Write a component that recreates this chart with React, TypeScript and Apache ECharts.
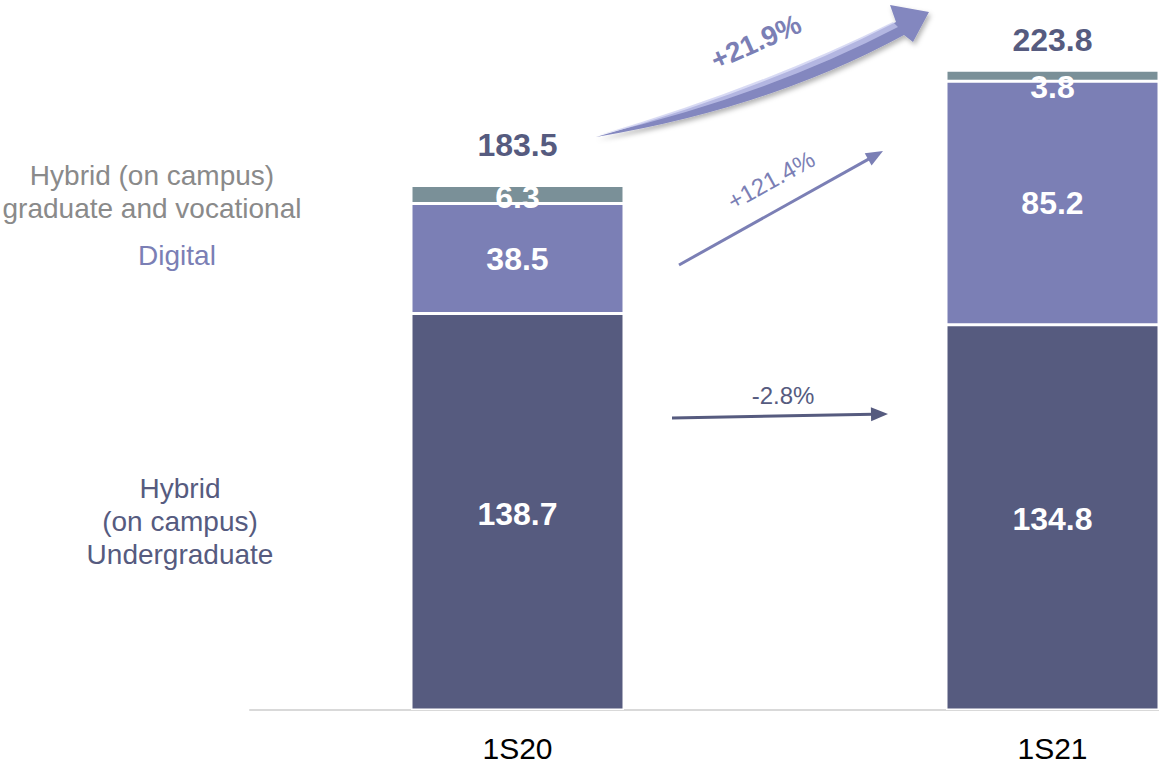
import React, { useEffect, useRef } from "react";
import * as echarts from "echarts";

// Revenue by segment, first semester (R$ million)
const categories = ["1S20", "1S21"];
const undergrad = [138.7, 134.8];
const digital = [38.5, 85.2];
const gradVocational = [6.3, 3.8];
const totals = [183.5, 223.8];

const FONT = "'Liberation Sans', Arial, sans-serif";
const DARK = "#565b7f";
const MID = "#7b7fb5";
const TEAL = "#7a9098";

// Tapered, curved growth arrow
const BIG_ARROW_D =
  "M596,137 Q764,90 896,22 L890,5 L929,12 L913,42 L904,35 Q770,108 596,137 Z";
const BIG_ARROW_HL = "M600,135 Q764,86 893,22 L898,27 Q768,95 600,135 Z";
echarts.graphic.registerShape("bigArrow", echarts.graphic.extendPath(BIG_ARROW_D, {}));
echarts.graphic.registerShape("bigArrowHL", echarts.graphic.extendPath(BIG_ARROW_HL, {}));

function arrow(x1: number, y1: number, x2: number, y2: number, color: string, width: number) {
  const dx = x2 - x1;
  const dy = y2 - y1;
  const len = Math.hypot(dx, dy);
  const ux = dx / len;
  const uy = dy / len;
  const headLen = 17;
  const half = 7;
  const bx = x2 - ux * headLen;
  const by = y2 - uy * headLen;
  const nx = -uy;
  const ny = ux;
  return [
    {
      type: "line",
      shape: { x1, y1, x2: bx + ux * 2, y2: by + uy * 2 },
      style: { stroke: color, lineWidth: width },
    },
    {
      type: "polygon",
      shape: {
        points: [
          [x2, y2],
          [bx + nx * half, by + ny * half],
          [bx - nx * half, by - ny * half],
        ],
      },
      style: { fill: color },
    },
  ];
}

const segLabel = {
  show: true,
  position: "inside",
  color: "#fff",
  fontSize: 32,
  fontWeight: "bold",
  fontFamily: FONT,
};

export default function App() {
  const ref = useRef<HTMLDivElement>(null);

  useEffect(() => {
    const chart = echarts.init(ref.current!, null, { renderer: "svg" });
    const smallLabelOffset = [3, 11];

    chart.setOption({
      animation: false,
      grid: { left: 250, top: 24, width: 1070, height: 686, outerBoundsMode: "none" },
      xAxis: {
        type: "category",
        data: categories,
        axisLine: { lineStyle: { color: "#d9d9d9", width: 2 } },
        axisTick: { show: false },
        axisLabel: { color: "#000", fontSize: 30, fontFamily: FONT, margin: 23 },
      },
      yAxis: { type: "value", min: 0, max: 240, show: false },
      series: [
        {
          name: "Hybrid (on campus) Undergraduate",
          type: "bar",
          stack: "total",
          barWidth: 213,
          data: undergrad,
          itemStyle: { color: DARK, borderColor: "#fff", borderWidth: 1.5 },
          label: { ...segLabel, offset: [0, 2] },
        },
        {
          name: "Digital",
          type: "bar",
          stack: "total",
          data: digital,
          itemStyle: { color: MID, borderColor: "#fff", borderWidth: 1.5 },
          label: segLabel,
        },
        {
          name: "Hybrid (on campus) graduate and vocational",
          type: "bar",
          stack: "total",
          data: gradVocational.map((v, i) => ({
            value: v,
            label: { offset: [0, smallLabelOffset[i]] },
          })),
          itemStyle: { color: TEAL, borderColor: "#fff", borderWidth: 1.5 },
          label: segLabel,
        },
        {
          name: "Total",
          type: "scatter",
          data: totals.map((v, i) => ({
            value: v,
            label: { distance: [24, 14][i] },
          })),
          symbolSize: 0,
          itemStyle: { opacity: 1 },
          label: {
            show: true,
            position: "top",
            color: DARK,
            fontSize: 32,
            fontWeight: "bold",
            fontFamily: FONT,
          },
        },
      ],
      graphic: [
        // Segment names
        {
          type: "text",
          x: 152,
          y: 192,
          style: {
            text: "Hybrid (on campus)\ngraduate and vocational",
            fill: "#8a8a8a",
            font: `28px ${FONT}`,
            lineHeight: 33,
            align: "center",
            verticalAlign: "middle",
          },
        },
        {
          type: "text",
          x: 177,
          y: 255,
          style: {
            text: "Digital",
            fill: MID,
            font: `28px ${FONT}`,
            align: "center",
            verticalAlign: "middle",
          },
        },
        {
          type: "text",
          x: 180,
          y: 521,
          style: {
            text: "Hybrid\n(on campus)\nUndergraduate",
            fill: DARK,
            font: `28px ${FONT}`,
            lineHeight: 33,
            align: "center",
            verticalAlign: "middle",
          },
        },
        // Total growth arrow
        {
          type: "bigArrow",
          x: 0,
          y: 0,
          style: {
            fill: "#8387bf",
            shadowBlur: 5,
            shadowOffsetX: 2,
            shadowOffsetY: 3,
            shadowColor: "rgba(0,0,0,0.3)",
          },
        },
        {
          type: "bigArrowHL",
          x: 0,
          y: 0,
          style: { fill: "rgba(200,203,240,0.7)" },
        },
        {
          type: "text",
          x: 756,
          y: 42,
          rotation: (24 * Math.PI) / 180,
          style: {
            text: "+21.9%",
            fill: MID,
            font: `bold 28px ${FONT}`,
            align: "center",
            verticalAlign: "middle",
          },
        },
        // Digital growth arrow
        ...arrow(679, 265, 883, 151, MID, 3),
        {
          type: "text",
          x: 771,
          y: 180,
          rotation: (29 * Math.PI) / 180,
          style: {
            text: "+121.4%",
            fill: MID,
            font: `24px ${FONT}`,
            align: "center",
            verticalAlign: "middle",
          },
        },
        // Undergraduate change arrow
        ...arrow(672, 418, 888, 414, DARK, 3),
        {
          type: "text",
          x: 783,
          y: 395,
          style: {
            text: "-2.8%",
            fill: DARK,
            font: `24px ${FONT}`,
            align: "center",
            verticalAlign: "middle",
          },
        },
      ],
    });

    return () => chart.dispose();
  }, []);

  return (
    <div
      ref={ref}
      style={{ position: "absolute", left: 0, top: 0, width: 1159, height: 763 }}
    />
  );
}
